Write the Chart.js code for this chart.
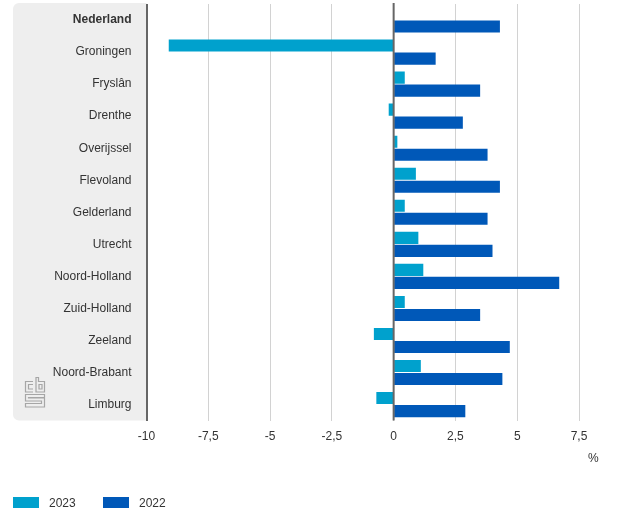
<!DOCTYPE html>
<html>
<head>
<meta charset="utf-8">
<style>
  html, body { margin: 0; padding: 0; background: #fff; }
  #wrap { position: relative; width: 626px; height: 511px; overflow: hidden; font: 12px "Liberation Sans", Arial, sans-serif; color: #333; }
  canvas { position: absolute; left: 0; top: 0; }
  #logo { position: absolute; left: 24px; top: 376px; }
  #unit { position: absolute; left: 588px; top: 451px; }
  #legend span { position: absolute; top: 496px; line-height: 14px; }
  #legend i { position: absolute; top: 497px; width: 26px; height: 11px; }
</style>
</head>
<body>
<div id="wrap">
  <canvas id="chart" width="626" height="511"></canvas>
  <svg id="logo" width="22" height="33" viewBox="0 0 22 33" fill="none" stroke="#a6a6a6" stroke-width="1.2">
    <path d="M9 5.5H1.5V16H9M9 8.5H4.5V13H9"/>
    <path d="M12 1.5H14.5V5.5H20.5V16H12ZM15 8.5H18V13H15Z"/>
    <path d="M20.5 18.5H1.5V25H17.5V27.5H1.5V31H20.5V22H4.5V21.5H20.5Z"/>
  </svg>
  <div id="unit">%</div>
  <div id="legend"></div>
</div>
<script src="https://cdn.jsdelivr.net/npm/chart.js@4"></script>
<script>
const categories = ['Nederland', 'Groningen', 'Fryslân', 'Drenthe', 'Overijssel', 'Flevoland', 'Gelderland', 'Utrecht', 'Noord-Holland', 'Zuid-Holland', 'Zeeland', 'Noord-Brabant', 'Limburg'];
const values2023 = [null, -9.1, 0.45, -0.2, 0.15, 0.9, 0.45, 1.0, 1.2, 0.45, -0.8, 1.1, -0.7];
const values2022 = [4.3, 1.7, 3.5, 2.8, 3.8, 4.3, 3.8, 4.0, 6.7, 3.5, 4.7, 4.4, 2.9];
const color2023 = '#00a1cd';
const color2022 = '#0058b8';
const textColor = '#333333';

const framePlugin = {
  id: 'frame',
  // grey panel behind the category labels
  beforeDraw: (chart) => {
    const { ctx, chartArea } = chart;
    ctx.save();
    ctx.fillStyle = '#eeeeee';
    ctx.beginPath();
    ctx.roundRect(13, chartArea.top - 1, chartArea.left - 13, chartArea.bottom - chartArea.top + 1, [6, 0, 0, 6]);
    ctx.fill();
    ctx.restore();
  },
  // zero line sits on top of the bars
  afterDatasetsDraw: (chart) => {
    const { ctx, chartArea, scales } = chart;
    const x0 = scales.x.getPixelForValue(0);
    ctx.save();
    ctx.strokeStyle = '#666666';
    ctx.lineWidth = 2;
    ctx.beginPath();
    ctx.moveTo(x0, chartArea.top - 1);
    ctx.lineTo(x0, chartArea.bottom);
    ctx.stroke();
    ctx.restore();
  }
};

const chart = new Chart(document.getElementById('chart'), {
  type: 'bar',
  data: {
    labels: categories,
    datasets: [
      { label: '2023', data: values2023, backgroundColor: color2023 },
      { label: '2022', data: values2022, backgroundColor: color2022 }
    ]
  },
  options: {
    indexAxis: 'y',
    responsive: false,
    animation: false,
    devicePixelRatio: 1,
    categoryPercentage: 0.8125,
    barPercentage: 0.93,
    layout: { padding: { top: 4, right: 47, left: 0, bottom: 58 } },
    plugins: { legend: { display: false }, tooltip: { enabled: false } },
    scales: {
      x: {
        min: -10,
        max: 7.5,
        ticks: {
          stepSize: 2.5,
          padding: 9,
          color: textColor,
          font: { family: '"Liberation Sans", Arial, sans-serif', size: 12 },
          callback: (v) => String(v).replace('.', ',')
        },
        grid: {
          drawTicks: false,
          color: (c) => c.tick.value === -10 ? '#666666' : '#d2d2d2',
          lineWidth: (c) => c.tick.value === -10 ? 2 : 1
        },
        border: { display: false }
      },
      y: {
        ticks: {
          padding: 15,
          color: textColor,
          autoSkip: false,
          font: (c) => ({
            family: '"Liberation Sans", Arial, sans-serif',
            size: 12,
            weight: c.index === 0 ? 'bold' : 'normal'
          })
        },
        grid: { display: false, drawTicks: false },
        border: { display: false },
        afterFit: (axis) => {
          axis.width = 146.5;
          // tick padding otherwise pushes the chart area down
          axis.paddingTop = 0;
          axis.paddingBottom = 0;
        }
      }
    }
  },
  plugins: [framePlugin]
});

// legend built from the chart's datasets
const legend = document.getElementById('legend');
const legendX = [13, 103];
chart.data.datasets.forEach((ds, i) => {
  const box = document.createElement('i');
  box.style.left = legendX[i] + 'px';
  box.style.background = ds.backgroundColor;
  const txt = document.createElement('span');
  txt.style.left = (legendX[i] + 36) + 'px';
  txt.textContent = ds.label;
  legend.append(box, txt);
});
</script>
</body>
</html>
